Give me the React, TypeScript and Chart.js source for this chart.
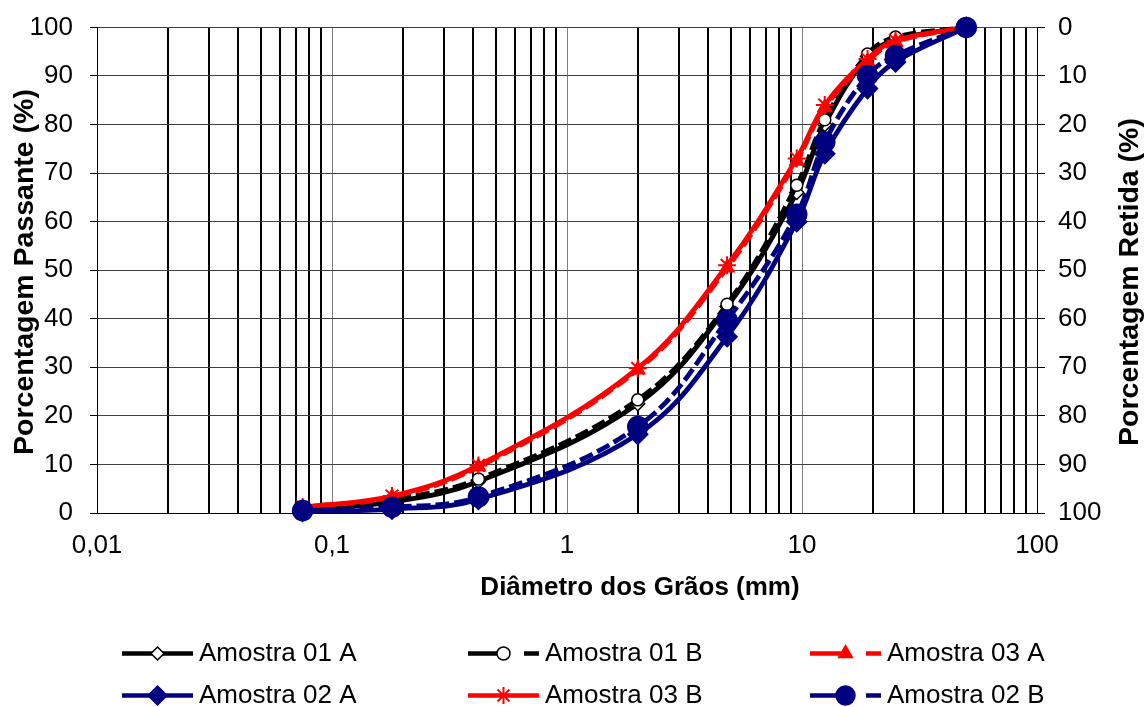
import React, { useEffect, useRef } from "react";
import { Chart, registerables } from "chart.js";

Chart.register(...registerables);

// ---- data -------------------------------------------------------------
const sieveSizes = [0.075, 0.18, 0.42, 2.0, 4.8, 9.5, 12.5, 19, 25, 50];

const amostra01A = [0.8, 2.3, 6.5, 22.5, 42.5, 66.0, 80.0, 94.0, 97.5, 100];
const amostra01B = [1.0, 2.8, 7.0, 23.3, 43.0, 67.5, 81.0, 94.5, 98.0, 100];
const amostra03A = [1.2, 3.3, 9.5, 29.5, 50.5, 72.5, 83.5, 93.0, 97.0, 100];
const amostra02A = [0.3, 0.8, 2.8, 16.2, 36.3, 60.0, 74.0, 87.4, 92.9, 100];
const amostra03B = [1.2, 3.5, 9.8, 29.8, 51.0, 73.0, 84.0, 93.5, 97.3, 100];
const amostra02B = [0.5, 1.2, 3.3, 17.8, 39.7, 61.5, 76.4, 90.1, 94.2, 100];

const seriesLabels = [
  "Amostra 01 A",
  "Amostra 01 B",
  "Amostra 03 A",
  "Amostra 02 A",
  "Amostra 03 B",
  "Amostra 02 B",
];

const xDecades = [0.01, 0.1, 1, 10, 100];
const xDecadeLabels = ["0,01", "0,1", "1", "10", "100"];
const xMinorMultipliers = [2, 3, 4, 5, 6, 7, 8, 9];

const yTitle = "Porcentagem Passante (%)";
const y2Title = "Porcentagem Retida (%)";
const xTitle = "Diâmetro dos Grãos (mm)";

// ---- styles -----------------------------------------------------------
const FONT = '"Liberation Sans", Arial, sans-serif';
const NAVY = "#000080";
const RED = "#FF0000";
const BLACK = "#000000";
const DASH = [14, 5];

type SeriesStyle = {
  values: number[];
  color: string;
  dashed: boolean;
  pointStyle: string;
  radius: number;
  filled: boolean;
  order: number;
  col: number;
  row: number;
};

const styles: SeriesStyle[] = [
  { values: amostra01A, color: BLACK, dashed: false, pointStyle: "rectRot", radius: 7, filled: false, order: 5, col: 0, row: 0 },
  { values: amostra01B, color: BLACK, dashed: true, pointStyle: "circle", radius: 6, filled: false, order: 4, col: 1, row: 0 },
  { values: amostra03A, color: RED, dashed: true, pointStyle: "triangle", radius: 8, filled: true, order: 3, col: 2, row: 0 },
  { values: amostra02A, color: NAVY, dashed: false, pointStyle: "rectRot", radius: 10, filled: true, order: 1, col: 0, row: 1 },
  { values: amostra03B, color: RED, dashed: false, pointStyle: "star", radius: 9, filled: true, order: 2, col: 1, row: 1 },
  { values: amostra02B, color: NAVY, dashed: true, pointStyle: "circle", radius: 10, filled: true, order: 0, col: 2, row: 1 },
];

const isDecade = (v: number) => xDecades.some((d) => Math.abs(v - d) / d < 1e-6);

function drawMarker(
  ctx: CanvasRenderingContext2D,
  style: string,
  x: number,
  y: number,
  r: number,
  fill: string,
  stroke: string,
  lw: number
) {
  ctx.save();
  ctx.beginPath();
  ctx.fillStyle = fill;
  ctx.strokeStyle = stroke;
  ctx.lineWidth = lw;
  ctx.setLineDash([]);
  if (style === "circle") {
    ctx.arc(x, y, r, 0, Math.PI * 2);
    ctx.fill();
    ctx.stroke();
  } else if (style === "rectRot") {
    ctx.moveTo(x, y - r);
    ctx.lineTo(x + r, y);
    ctx.lineTo(x, y + r);
    ctx.lineTo(x - r, y);
    ctx.closePath();
    ctx.fill();
    ctx.stroke();
  } else if (style === "triangle") {
    let a = 0;
    ctx.moveTo(x + Math.sin(a) * r, y - Math.cos(a) * r);
    a += (2 * Math.PI) / 3;
    ctx.lineTo(x + Math.sin(a) * r, y - Math.cos(a) * r);
    a += (2 * Math.PI) / 3;
    ctx.lineTo(x + Math.sin(a) * r, y - Math.cos(a) * r);
    ctx.closePath();
    ctx.fill();
    ctx.stroke();
  } else if (style === "star") {
    for (let k = 0; k < 4; k++) {
      const a = (k * Math.PI) / 4;
      ctx.moveTo(x + Math.cos(a) * r, y + Math.sin(a) * r);
      ctx.lineTo(x - Math.cos(a) * r, y - Math.sin(a) * r);
    }
    ctx.stroke();
  }
  ctx.restore();
}

const decorPlugin = {
  id: "decor",
  afterDraw(chart: any) {
    const ctx: CanvasRenderingContext2D = chart.ctx;
    ctx.save();
    // axis titles
    ctx.fillStyle = "#000";
    ctx.font = `bold 26px ${FONT}`;
    ctx.textAlign = "center";
    ctx.textBaseline = "middle";
    ctx.fillText(xTitle, 640, 588);

    ctx.font = `bold 28.5px ${FONT}`;
    ctx.save();
    ctx.translate(25, 272);
    ctx.rotate(-Math.PI / 2);
    ctx.fillText(yTitle, 0, 0);
    ctx.restore();

    ctx.save();
    ctx.translate(1130, 282);
    ctx.rotate(-Math.PI / 2);
    ctx.fillText(y2Title, 0, 0);
    ctx.restore();

    // legend
    const colX = [122, 468, 810];
    const rowY = [653.5, 695.5];
    const lineLen = 71;
    ctx.font = `26px ${FONT}`;
    ctx.textAlign = "left";
    ctx.textBaseline = "middle";
    styles.forEach((s, i) => {
      const x0 = colX[s.col];
      const y = rowY[s.row];
      const mx = x0 + 35.5;
      ctx.save();
      ctx.strokeStyle = s.color;
      ctx.lineWidth = 4.5;
      ctx.lineCap = "butt";
      ctx.beginPath();
      if (s.dashed) {
        ctx.moveTo(x0, y);
        ctx.lineTo(mx, y);
        ctx.moveTo(x0 + 56, y);
        ctx.lineTo(x0 + lineLen, y);
      } else {
        ctx.moveTo(x0, y);
        ctx.lineTo(x0 + lineLen, y);
      }
      ctx.stroke();
      ctx.restore();
      const lr = s.filled ? (s.pointStyle === "triangle" ? 8 : s.pointStyle === "star" ? 8.5 : 9.5) : 6.5;
      drawMarker(ctx, s.pointStyle, mx, y, lr, s.filled ? s.color : "#fff", s.color, s.pointStyle === "star" ? 2 : 1.5);
      ctx.fillStyle = "#000";
      ctx.fillText(seriesLabels[i], x0 + 77, y);
    });
    ctx.restore();
  },
};

export default function App() {
  const canvasRef = useRef<HTMLCanvasElement | null>(null);

  useEffect(() => {
    document.body.style.margin = "0";
    const canvas = canvasRef.current;
    if (!canvas) return;

    const xGridValues: number[] = [];
    for (let k = 0; k < xDecades.length; k++) {
      xGridValues.push(xDecades[k]);
      if (k < xDecades.length - 1) {
        for (const m of xMinorMultipliers) xGridValues.push(m * xDecades[k]);
      }
    }

    const datasets = styles.map((s, i) => ({
      label: seriesLabels[i],
      data: sieveSizes.map((x, j) => ({ x, y: s.values[j] })),
      borderColor: s.color,
      backgroundColor: s.color,
      borderWidth: 4.8,
      borderDash: s.dashed ? DASH : [],
      pointStyle: s.pointStyle,
      pointRadius: s.radius,
      pointBackgroundColor: s.filled ? s.color : "#ffffff",
      pointBorderColor: s.color,
      pointBorderWidth: s.pointStyle === "star" ? 2 : 1.5,
      tension: 0.38,
      fill: false,
      clip: false as any,
      order: s.order,
      yAxisID: "y",
    }));

    const chart = new Chart(canvas, {
      type: "line",
      data: { datasets } as any,
      options: {
        responsive: false,
        animation: false,
        devicePixelRatio: 1,
        layout: { padding: { top: 27, bottom: 97, left: 0, right: 0 } },
        plugins: {
          legend: { display: false },
          tooltip: { enabled: false },
          title: { display: false },
        },
        scales: {
          x: {
            type: "logarithmic",
            position: "bottom",
            min: 0.01,
            max: 100,
            afterBuildTicks: (scale: any) => {
              scale.ticks = xGridValues.map((v) => ({ value: v }));
            },
            afterFit: (scale: any) => {
              scale.height = 97;
            },
            ticks: {
              autoSkip: false,
              maxRotation: 0,
              minRotation: 0,
              padding: 17,
              color: "#000",
              font: { family: FONT, size: 26 },
              callback: (v: any) => {
                const idx = xDecades.findIndex((d) => Math.abs(Number(v) - d) / d < 1e-6);
                return idx >= 0 ? xDecadeLabels[idx] : "";
              },
            },
            grid: {
              drawTicks: false,
              color: (c: any) => (c.tick && isDecade(c.tick.value) ? "#7f7f7f" : "#000"),
              lineWidth: (c: any) => (c.tick && isDecade(c.tick.value) ? 1 : 2),
            },
            border: { color: "#000", width: 1 },
          },
          y: {
            type: "linear",
            position: "left",
            min: 0,
            max: 100,
            afterFit: (scale: any) => {
              scale.width = 97;
            },
            ticks: {
              stepSize: 10,
              padding: 17,
              color: "#000",
              font: { family: FONT, size: 26, lineHeight: 0.8 },
            },
            grid: { color: "#404040", lineWidth: 1, tickLength: 7, tickColor: "#000" },
            border: { color: "#000", width: 1 },
          },
          y2: {
            type: "linear",
            position: "right",
            min: 0,
            max: 100,
            reverse: true,
            afterFit: (scale: any) => {
              scale.width = 107;
            },
            ticks: {
              stepSize: 10,
              padding: 13,
              color: "#000",
              font: { family: FONT, size: 26, lineHeight: 0.8 },
            },
            grid: { drawOnChartArea: false, tickLength: 8, tickColor: "#000", color: "#000" },
            border: { color: "#000", width: 1 },
          },
        },
      } as any,
      plugins: [decorPlugin],
    });

    return () => {
      chart.destroy();
    };
  }, []);

  return (
    <div style={{ width: 1144, height: 707, background: "#fff" }}>
      <canvas ref={canvasRef} width={1144} height={707} style={{ display: "block", width: 1144, height: 707 }} />
    </div>
  );
}
